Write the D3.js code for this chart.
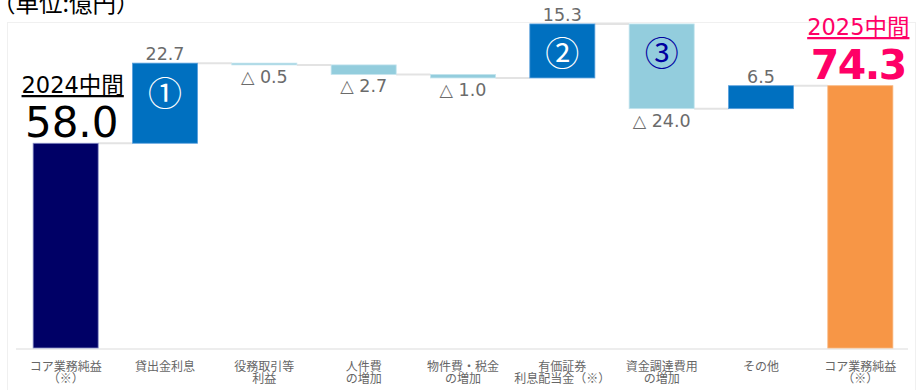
<!DOCTYPE html>
<html>
<head>
<meta charset="utf-8">
<script src="https://cdn.jsdelivr.net/npm/d3@7"></script>
<style>
  html, body { margin: 0; padding: 0; background: #fff; }
  svg { display: block; font-family: "Noto Sans CJK JP", "Noto Sans", sans-serif; }
  .num { font-family: "DejaVu Sans", "Noto Sans CJK JP", sans-serif; }
</style>
</head>
<body>
<svg id="chart" width="924" height="390"></svg>
<script>
// コア業務純益の増減要因（億円）
const categories = ["core2024", "loan", "fee", "personnel", "property", "securities", "funding", "other", "core2025"];
const labelLines = [
  ["コア業務純益", "（※）"],
  ["貸出金利息"],
  ["役務取引等", "利益"],
  ["人件費", "の増加"],
  ["物件費・税金", "の増加"],
  ["有価証券", "利息配当金（※）"],
  ["資金調達費用", "の増加"],
  ["その他"],
  ["コア業務純益", "（※）"]
];
const values = [58.0, 22.7, -0.5, -2.7, -1.0, 15.3, -24.0, 6.5, 74.3];
const kinds = ["total", "delta", "delta", "delta", "delta", "delta", "delta", "delta", "total"];
const markers = [null, "①", null, null, null, "②", "③", null, null];
const totalCaptions = ["2024中間", "2025中間"];

const svg = d3.select("#chart");

const x = d3.scaleBand()
  .domain(categories)
  .range([16, 910])
  .paddingInner(0.345)
  .paddingOuter(0.1725);

const y = d3.scaleLinear().domain([0, 100]).range([348, -5]);

// running totals for the waterfall
let running = 0;
const bars = values.map((v, i) => {
  let start, end;
  if (kinds[i] === "total") { start = 0; end = v; running = v; }
  else { start = running; end = running + v; running = end; }
  return { key: categories[i], value: v, kind: kinds[i], start, end, marker: markers[i], i };
});

function fillFor(d) {
  if (d.kind === "total") return d.i === 0 ? "#000066" : "#F79646";
  return d.value >= 0 ? "#0070C0" : "#93CDDD";
}
function strokeFor(d) {
  if (d.kind === "total") return d.i === 0 ? "#8a8fc8" : "#f8b57c";
  return d.value >= 0 ? "#5aa0dc" : "#c4e4ee";
}
const cx = d => x(d.key) + x.bandwidth() / 2;

// faint frame of the plot area
svg.append("rect")
  .attr("x", 7.5).attr("y", 22.5).attr("width", 908).attr("height", 380)
  .attr("fill", "none").attr("stroke", "#f0f0f0").attr("stroke-width", 1);

// connectors between consecutive bars
const conn = svg.append("g");
bars.slice(0, -1).forEach((d, k) => {
  const next = bars[k + 1];
  conn.append("line")
    .attr("x1", x(d.key) + x.bandwidth())
    .attr("x2", x(next.key))
    .attr("y1", y(d.end)).attr("y2", y(d.end))
    .attr("stroke", "#e3e3e3").attr("stroke-width", 2);
});

// baseline
svg.append("line")
  .attr("x1", x.range()[0]).attr("x2", x.range()[1] - 2)
  .attr("y1", y(0) + 1).attr("y2", y(0) + 1)
  .attr("stroke", "#dcdcdc").attr("stroke-width", 1.2);

// bars
svg.append("g").selectAll("rect").data(bars).join("rect")
  .attr("x", d => x(d.key))
  .attr("width", x.bandwidth())
  .attr("y", d => y(Math.max(d.start, d.end)))
  .attr("height", d => Math.max(1.5, Math.abs(y(d.start) - y(d.end))))
  .attr("fill", fillFor)
  .attr("stroke", strokeFor)
  .attr("stroke-width", 0.8);

// circled markers inside bars
svg.append("g").selectAll("text").data(bars.filter(d => d.marker)).join("text")
  .attr("x", cx)
  .attr("y", d => y(Math.max(d.start, d.end)) + 28)
  .attr("text-anchor", "middle")
  .attr("dominant-baseline", "central")
  .attr("font-size", 34)
  .attr("fill", d => d.value < 0 ? "#0000A0" : "#ffffff")
  .text(d => d.marker);

// value labels for the changes
const fmt = d3.format(".1f");
svg.append("g").selectAll("text").data(bars.filter(d => d.kind === "delta")).join("text")
  .attr("class", "num")
  .attr("x", cx)
  .attr("y", d => d.value >= 0 ? y(d.end) - 3 : y(d.end) + 18)
  .attr("text-anchor", "middle")
  .attr("font-size", 17.5)
  .attr("fill", "#6b6b6b")
  .text(d => d.value >= 0 ? fmt(d.value) : "△ " + fmt(-d.value));

// captions for the two totals
const totals = bars.filter(d => d.kind === "total");
const first = totals[0], last = totals[1];

const cap1 = svg.append("g").attr("fill", "#000").attr("class", "num");
cap1.append("text")
  .attr("x", cx(first) + 7).attr("y", 93)
  .attr("text-anchor", "middle").attr("font-size", 22.5)
  .attr("text-decoration", "underline")
  .text(totalCaptions[0]);
cap1.append("text")
  .attr("x", cx(first) + 6).attr("y", 137)
  .attr("text-anchor", "middle").attr("font-size", 42)
  .text(fmt(first.value));

const cap2 = svg.append("g").attr("fill", "#FF0066").attr("class", "num");
cap2.append("text")
  .attr("x", cx(last) - 2).attr("y", 35)
  .attr("text-anchor", "middle").attr("font-size", 22.5)
  .attr("text-decoration", "underline")
  .text(totalCaptions[1]);
cap2.append("text")
  .attr("x", cx(last) - 2).attr("y", 79)
  .attr("text-anchor", "middle").attr("font-size", 41).attr("font-weight", 700)
  .attr("letter-spacing", -1.5)
  .text(fmt(last.value));

// unit note
svg.append("text")
  .attr("x", -8).attr("y", 12)
  .attr("font-size", 23.5).attr("fill", "#000")
  .text("（単位:億円）");

// category labels
const lab = svg.append("g").attr("font-size", 12).attr("fill", "#666").attr("text-anchor", "middle");
bars.forEach((d, i) => {
  const t = lab.append("text").attr("x", cx(d)).attr("y", 370.5);
  labelLines[i].forEach((line, j) => {
    t.append("tspan").attr("x", cx(d)).attr("dy", j === 0 ? 0 : 12.5).text(line);
  });
});
</script>
</body>
</html>
